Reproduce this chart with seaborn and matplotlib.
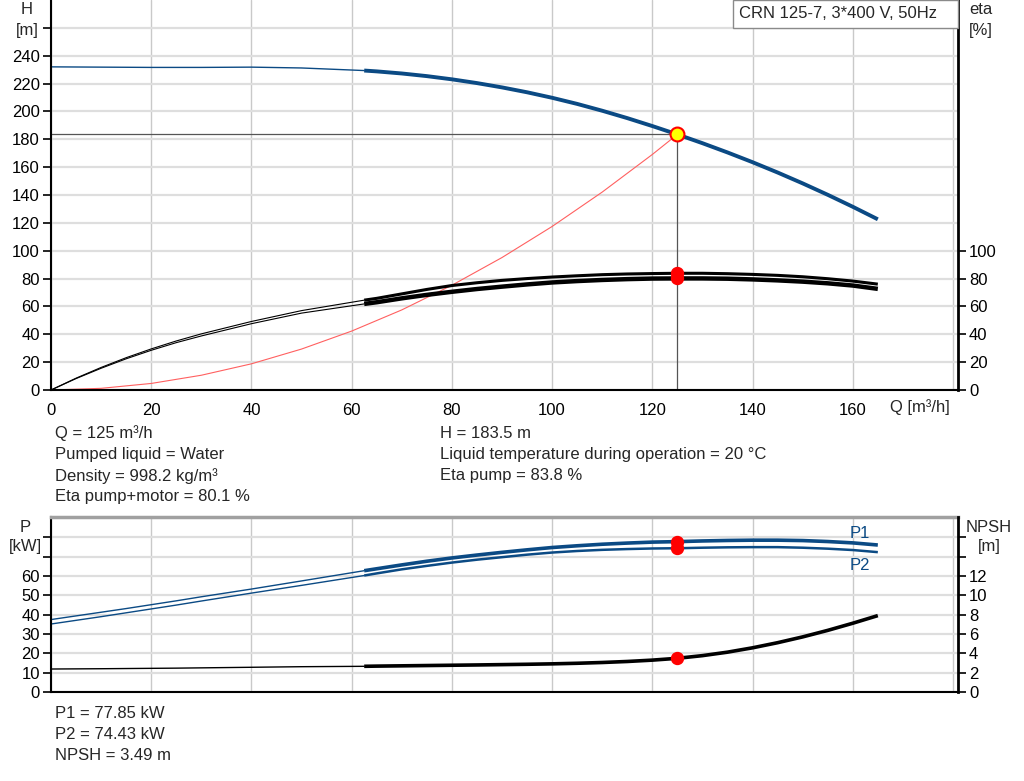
import matplotlib
matplotlib.use("Agg")
import matplotlib.pyplot as plt
from matplotlib.patches import Rectangle
import seaborn as sns

# flow points [m3/h]; thin line up to 62.5 (index 9), thick after
q = [0, 5, 10, 15, 20, 25, 30, 40, 50, 62.5,
     65, 70, 75, 80, 85, 90, 95, 100, 105, 110, 115, 120, 125,
     130, 135, 140, 145, 150, 155, 160, 165]
head = [232.0, 231.9, 231.8, 231.7, 231.6, 231.6, 231.6, 231.8, 231.2, 229.35,
        228.75, 227.25, 225.35, 223.05, 220.35, 217.25, 213.75, 209.8, 205.4, 200.5, 195.2,
        189.5, 183.5, 177.2, 170.55, 163.55, 156.15, 148.35, 140.15, 131.55, 122.55]
eta_pump = [0, 8.5, 16.2, 23.2, 29.5, 35.2, 40.3, 49.2, 57.0, 64.5,
            65.8, 69.0, 72.2, 75.0, 77.0, 78.7, 80.0, 81.1, 82.0, 82.8, 83.3, 83.6, 83.8,
            83.8, 83.5, 83.0, 82.3, 81.3, 79.9, 78.2, 76.0]
eta_total = [0, 8.2, 15.6, 22.4, 28.5, 34.0, 38.8, 47.6, 55.2, 61.8,
             63.0, 65.8, 68.3, 70.5, 72.5, 74.2, 75.8, 77.2, 78.2, 79.0, 79.6, 80.0, 80.1,
             80.1, 79.9, 79.4, 78.7, 77.8, 76.6, 75.0, 72.6]
p1 = [37.5, 39.4, 41.3, 43.2, 45.2, 47.2, 49.3, 53.3, 57.5, 62.8,
      63.8, 65.8, 67.7, 69.4, 70.9, 72.3, 73.6, 74.8, 75.7, 76.5, 77.1, 77.6, 77.85,
      78.2, 78.45, 78.6, 78.6, 78.4, 77.9, 77.2, 76.1]
p2 = [35.2, 37.1, 39.0, 41.0, 43.0, 45.0, 47.1, 51.2, 55.2, 60.3,
      61.4, 63.5, 65.3, 67.0, 68.5, 69.8, 71.1, 72.2, 73.0, 73.6, 74.0, 74.3, 74.43,
      74.7, 74.9, 75.0, 75.0, 74.7, 74.2, 73.5, 72.4]
npsh = [2.38, 2.395, 2.41, 2.43, 2.45, 2.47, 2.50, 2.56, 2.62, 2.66,
        2.68, 2.71, 2.74, 2.77, 2.80, 2.835, 2.87, 2.915, 2.975, 3.055, 3.16, 3.30, 3.49,
        3.765, 4.125, 4.575, 5.105, 5.705, 6.38, 7.12, 7.91]
SPLIT = 9

# system curve through the duty point
q_sys = [0, 10, 20, 30, 40, 50, 60, 70, 80, 90, 100, 110, 120, 125]
h_sys = [0, 1.2, 4.7, 10.6, 18.8, 29.4, 42.3, 57.5, 75.2, 95.1, 117.4, 142.1, 169.1, 183.5]

q_duty = 125
h_duty = 183.5
i_duty = q.index(q_duty)

info_left = ["Q = 125 m³/h", "Pumped liquid = Water", "Density = 998.2 kg/m³",
             "Eta pump+motor = 80.1 %"]
info_right = ["H = 183.5 m", "Liquid temperature during operation = 20 °C",
              "Eta pump = 83.8 %"]
info_bottom = ["P1 = 77.85 kW", "P2 = 74.43 kW", "NPSH = 3.49 m"]
title = "CRN 125-7, 3*400 V, 50Hz"

BLUE = "#0b4a84"
W, H = 1024, 781

sns.set_style("white")
plt.rcParams["font.family"] = ["Liberation Sans", "DejaVu Sans"]
plt.rcParams["font.size"] = 12


def px(x, y):
    return x / W, 1 - y / H


def curve(ax, y, color, lw_thin, lw_thick):
    sns.lineplot(x=q[:SPLIT + 1], y=y[:SPLIT + 1], ax=ax, color=color, linewidth=lw_thin,
                 estimator=None, sort=False)
    sns.lineplot(x=q[SPLIT:], y=y[SPLIT:], ax=ax, color=color, linewidth=lw_thick,
                 estimator=None, sort=False, solid_capstyle="butt")


def style_axes(ax, twin):
    ax.set_xlim(0, 181)
    ax.set_xticks(range(0, 181, 20))
    ax.xaxis.grid(True, color="#c9c9c9", linewidth=1.0)
    ax.yaxis.grid(True, color="#dedede", linewidth=1.6)
    ax.set_axisbelow(True)
    for a in (ax, twin):
        a.tick_params(axis="both", direction="out", length=6, width=1.2,
                      labelsize=12, pad=2, colors="black")
        a.set_xlabel("")
        a.set_ylabel("")
    ax.spines["left"].set_color("black")
    ax.spines["left"].set_linewidth(1.5)
    ax.spines["bottom"].set_color("black")
    ax.spines["bottom"].set_linewidth(1.5)
    twin.spines["right"].set_color("black")
    twin.spines["right"].set_linewidth(2.0)
    for s in ("left", "bottom", "top"):
        twin.spines[s].set_visible(False)
    ax.spines["right"].set_visible(False)


fig = plt.figure(figsize=(W / 100, H / 100), dpi=100)

# ---------------- head / efficiency ----------------
ax_h = fig.add_axes([51 / W, 391 / H, 907 / W, 390 / H])
ax_e = ax_h.twinx()

ax_h.plot([0, q_duty], [h_duty, h_duty], color="#555555", linewidth=0.9, zorder=2)
ax_h.plot([q_duty, q_duty], [h_duty, 0], color="#555555", linewidth=0.9, zorder=2)
sns.lineplot(x=q_sys, y=h_sys, ax=ax_h, color="#ff6060", linewidth=0.8,
             estimator=None, sort=False)
curve(ax_h, head, BLUE, 1.0, 2.8)

curve(ax_e, eta_pump, "black", 0.8, 2.2)
curve(ax_e, eta_total, "black", 0.8, 3.2)
ax_e.plot([q_duty, q_duty], [eta_pump[i_duty], eta_total[i_duty]], "o", color="red",
          markersize=8.6, zorder=5)
ax_e.plot([q_duty], [h_duty], "o", markerfacecolor="#ffff00", markeredgecolor="red",
          markeredgewidth=1.5, markersize=10, zorder=6)

ax_h.set_ylim(0, 280)
ax_e.set_ylim(0, 280)
ax_h.set_yticks(range(0, 261, 20))
ax_h.set_yticklabels([str(v) if v <= 240 else "" for v in range(0, 261, 20)])
ax_e.set_yticks(range(0, 101, 20))
ax_h.set_xticklabels([str(v) if v <= 160 else "" for v in range(0, 181, 20)])
style_axes(ax_h, ax_e)
ax_h.spines["top"].set_visible(False)
ax_h.tick_params(axis="x", pad=3)

# model box in the top right corner
x0, y0 = px(733, 28)
fig.add_artist(Rectangle((x0, y0), (958 - 733) / W, 28 / H, transform=fig.transFigure,
                         facecolor="white", edgecolor="#8a8a8a", linewidth=1.0, zorder=10))
fig.text(*px(739, 14), title, ha="left", va="center", fontsize=12, zorder=11)

fig.text(*px(27, 10), "H", ha="center", va="center", fontsize=12)
fig.text(*px(27, 30), "[m]", ha="center", va="center", fontsize=12)
fig.text(*px(981, 10), "eta", ha="center", va="center", fontsize=12)
fig.text(*px(981, 30), "[%]", ha="center", va="center", fontsize=12)
fig.text(*px(950, 407), "Q [m³/h]", ha="right", va="center", fontsize=12)

for i, s in enumerate(info_left):
    fig.text(*px(55, 433 + i * 21.3), s, ha="left", va="center", fontsize=12)
for i, s in enumerate(info_right):
    fig.text(*px(440, 433 + i * 21.3), s, ha="left", va="center", fontsize=12)

# ---------------- power / NPSH ----------------
ax_p = fig.add_axes([51 / W, 89 / H, 907 / W, 175 / H])
ax_n = ax_p.twinx()

curve(ax_p, p1, BLUE, 1.0, 2.6)
curve(ax_p, p2, BLUE, 1.0, 1.8)
curve(ax_n, npsh, "black", 1.0, 2.6)
ax_p.plot([q_duty, q_duty], [p1[i_duty], p2[i_duty]], "o", color="red", markersize=8.6, zorder=5)
ax_n.plot([q_duty], [npsh[i_duty]], "o", color="red", markersize=8.6, zorder=5)

ax_p.set_ylim(0, 90.6)
ax_n.set_ylim(0, 90.6 / 5)
ax_p.set_yticks(range(0, 81, 10))
ax_p.set_yticklabels([str(v) if v <= 60 else "" for v in range(0, 81, 10)])
ax_n.set_yticks(range(0, 17, 2))
ax_n.set_yticklabels([str(v) if v <= 12 else "" for v in range(0, 17, 2)])
style_axes(ax_p, ax_n)
ax_p.set_xticklabels([])
ax_p.tick_params(axis="x", length=0)
ax_p.spines["top"].set_color("#a0a0a0")
ax_p.spines["top"].set_linewidth(2.5)

fig.text(*px(860, 534), "P1", ha="center", va="center", fontsize=12, color=BLUE)
fig.text(*px(860, 565), "P2", ha="center", va="center", fontsize=12, color=BLUE)
fig.text(*px(25, 527), "P", ha="center", va="center", fontsize=12)
fig.text(*px(25, 547), "[kW]", ha="center", va="center", fontsize=12)
fig.text(*px(989, 527), "NPSH", ha="center", va="center", fontsize=12)
fig.text(*px(989, 547), "[m]", ha="center", va="center", fontsize=12)

for i, s in enumerate(info_bottom):
    fig.text(*px(55, 713 + i * 21.5), s, ha="left", va="center", fontsize=12)

fig.savefig("out.png", dpi=100)
